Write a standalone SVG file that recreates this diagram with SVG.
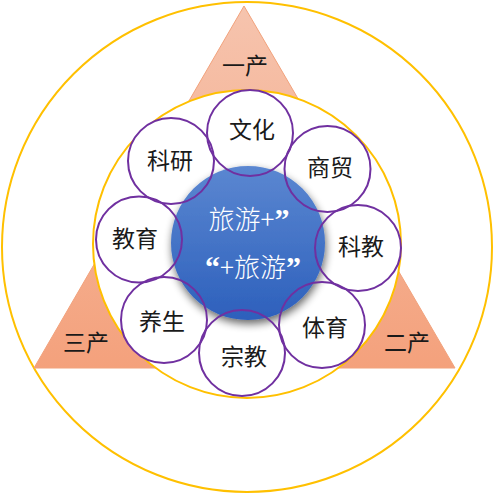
<svg xmlns="http://www.w3.org/2000/svg" width="493" height="493" viewBox="0 0 493 493">
<defs>
<linearGradient id="tri" x1="0" y1="0" x2="0" y2="1">
<stop offset="0" stop-color="#F6C4AE"/>
<stop offset="1" stop-color="#F4A17C"/>
</linearGradient>
<linearGradient id="blue" x1="0" y1="0" x2="0" y2="1">
<stop offset="0" stop-color="#5B87D1"/>
<stop offset="1" stop-color="#2D60BC"/>
</linearGradient>
<filter id="shadow" x="-30%" y="-30%" width="160%" height="160%">
<feGaussianBlur in="SourceAlpha" stdDeviation="4"/>
<feOffset dx="1" dy="4" result="b"/>
<feComponentTransfer><feFuncA type="linear" slope="0.6"/></feComponentTransfer>
<feMerge><feMergeNode/><feMergeNode in="SourceGraphic"/></feMerge>
</filter>
</defs>
<style>
.ring{fill:none;stroke:#FFC000;stroke-width:2}
.fill{fill:#FFFFFF;stroke:none}
.ol{fill:none;stroke:#7030A0;stroke-width:2}
.lbl{font-family:"Noto Sans CJK SC","Noto Sans",sans-serif;font-size:23px;fill:#1a1a1a;text-anchor:middle}
.ctr{font-family:"Noto Sans CJK SC","Noto Sans",sans-serif;font-size:26px;font-weight:300;fill:#FFFFFF;text-anchor:middle}
.q{font-family:"Liberation Serif",serif;font-weight:bold;font-size:30px}
</style>
<rect width="493" height="493" fill="#FFFFFF"/>
<circle class="ring" cx="247" cy="247" r="245"/>
<g id="triangle">
<polygon points="244,6 34,368 455,368" fill="url(#tri)" stroke="#F2A27C" stroke-width="1"/>
<text class="lbl" x="245" y="74">一产</text>
<text class="lbl" x="86" y="351">三产</text>
<text class="lbl" x="407" y="351">二产</text>
</g>
<circle cx="247" cy="244" r="154" fill="#FFFFFF" stroke="#FFC000" stroke-width="2"/>
<g id="fills">
<circle class="fill" cx="250" cy="133" r="43"/>
<circle class="fill" cx="327.5" cy="169" r="43"/>
<circle class="fill" cx="358" cy="248" r="43"/>
<circle class="fill" cx="322" cy="325" r="43"/>
<circle class="fill" cx="242" cy="353" r="43"/>
<circle class="fill" cx="164" cy="320" r="43"/>
<circle class="fill" cx="139" cy="239.5" r="43"/>
<circle class="fill" cx="171" cy="161" r="43"/>
</g>
<g id="center">
<circle cx="248" cy="243" r="77" fill="url(#blue)" filter="url(#shadow)"/>
<text class="ctr" x="249" y="229">旅游+<tspan class="q">”</tspan></text>
<text class="ctr" x="253" y="277"><tspan class="q">“</tspan>+旅游<tspan class="q">”</tspan></text>
</g>
<g id="n-wenhua"><circle class="ol" cx="250" cy="133" r="43"/><text class="lbl" x="252" y="138">文化</text></g>
<g id="n-shangmao"><circle class="ol" cx="327.5" cy="169" r="43"/><text class="lbl" x="330" y="176">商贸</text></g>
<g id="n-kejiao"><circle class="ol" cx="358" cy="248" r="43"/><text class="lbl" x="361" y="255">科教</text></g>
<g id="n-tiyu"><circle class="ol" cx="322" cy="325" r="43"/><text class="lbl" x="325" y="336">体育</text></g>
<g id="n-zongjiao"><circle class="ol" cx="242" cy="353" r="43"/><text class="lbl" x="244" y="365">宗教</text></g>
<g id="n-yangsheng"><circle class="ol" cx="164" cy="320" r="43"/><text class="lbl" x="162" y="330">养生</text></g>
<g id="n-jiaoyu"><circle class="ol" cx="139" cy="239.5" r="43"/><text class="lbl" x="135" y="247">教育</text></g>
<g id="n-keyan"><circle class="ol" cx="171" cy="161" r="43"/><text class="lbl" x="170" y="169">科研</text></g>
<g id="connectors"></g>
</svg>
